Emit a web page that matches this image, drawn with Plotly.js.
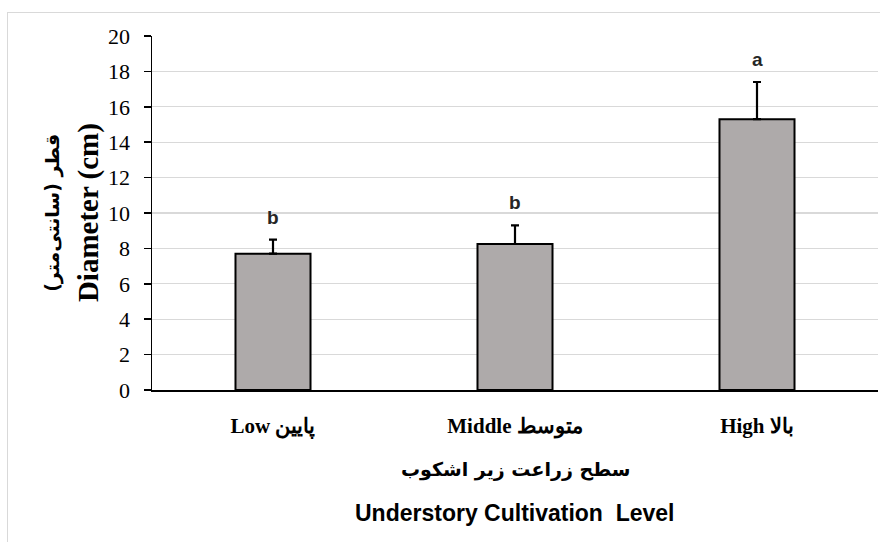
<!DOCTYPE html>
<html>
<head>
<meta charset="utf-8">
<script src="https://cdn.plot.ly/plotly-3.0.1.min.js"></script>
<style>
  html, body { margin: 0; padding: 0; background: #ffffff; }
  #frame { position: absolute; left: 7px; top: 12px; width: 1000px; height: 1000px;
           border-left: 1.5px solid #d9d9d9; border-top: 1.5px solid #d9d9d9; }
  #chart { position: absolute; left: 0; top: 0; width: 880px; height: 542px; }
</style>
</head>
<body>
<div id="frame"></div>
<div id="chart"></div>
<script>
// Understory cultivation levels and mean stem diameter (cm) with standard error
const levels = ['Low پایین', 'Middle متوسط', 'High بالا'];
const diameter = [7.7, 8.25, 15.3];
const stdError = [0.8, 1.05, 2.1];
const groupLetters = ['b', 'b', 'a'];
const yTicks = [0, 2, 4, 6, 8, 10, 12, 14, 16, 18, 20];

const SERIF = '"Liberation Serif", "Times New Roman", "DejaVu Serif", serif';
const SANS = '"Liberation Sans", Arial, "DejaVu Sans", sans-serif';
const ARABIC = '"DejaVu Sans", "Noto Sans", sans-serif';

const bars = {
  type: 'bar',
  x: levels,
  y: diameter,
  marker: { color: '#aeaaaa', line: { color: '#000000', width: 2 } },
  error_y: { type: 'data', array: stdError, symmetric: false, arrayminus: [0, 0, 0],
             color: '#000000', thickness: 2.2, width: 4 },
  hoverinfo: 'skip'
};

// significance letters sit just above each error bar
const letterNotes = levels.map((lv, i) => ({
  x: lv, y: diameter[i] + stdError[i], xref: 'x', yref: 'y',
  text: '<b>' + groupLetters[i] + '</b>', showarrow: false,
  yanchor: 'bottom', yshift: 10,
  font: { family: SANS, size: 19, color: '#262626' }
}));

const titleNotes = [
  { xref: 'paper', yref: 'paper', x: 0.5, y: -0.225, yanchor: 'middle', showarrow: false,
    text: '<b>سطح زراعت زیر اشکوب</b>',
    font: { family: ARABIC, size: 19, color: '#000000' } },
  { xref: 'paper', yref: 'paper', x: 0.5, y: -0.347, yanchor: 'middle', showarrow: false,
    text: '<b>Understory Cultivation  Level</b>',
    font: { family: SANS, size: 23, color: '#000000' } },
  { xref: 'paper', yref: 'paper', x: -0.088, y: 0.5, xanchor: 'center', yanchor: 'middle', showarrow: false,
    textangle: -90,
    text: '<b>Diameter (cm)</b>',
    font: { family: SERIF, size: 29, color: '#000000' } },
  { xref: 'paper', yref: 'paper', x: -0.138, y: 0.5, xanchor: 'center', yanchor: 'middle', showarrow: false,
    textangle: -90,
    text: '<b>قطر (سانتی‌متر)\u200F</b>',
    font: { family: ARABIC, size: 19, color: '#000000' } }
];

const layout = {
  width: 880, height: 542,
  margin: { l: 152, r: 2, t: 36, b: 152 },
  paper_bgcolor: 'rgba(0,0,0,0)',
  plot_bgcolor: 'rgba(0,0,0,0)',
  bargap: 0.69,
  showlegend: false,
  xaxis: {
    type: 'category',
    showline: true, linecolor: '#000000', linewidth: 1.5,
    ticks: '', showgrid: false, zeroline: false,
    ticklabelstandoff: 16,
    tickfont: { family: SERIF, size: 21, color: '#000000', weight: 'bold' }
  },
  yaxis: {
    range: [0, 20],
    tickvals: yTicks,
    showline: true, linecolor: '#000000', linewidth: 1.5,
    ticks: 'outside', ticklen: 7, tickwidth: 1.5, tickcolor: '#000000',
    showgrid: true, gridcolor: '#d9d9d9', gridwidth: 1.2,
    zeroline: false,
    ticklabelstandoff: 9,
    tickfont: { family: SERIF, size: 22, color: '#000000' }
  },
  annotations: letterNotes.concat(titleNotes)
};

Plotly.newPlot('chart', [bars], layout, { displayModeBar: false, staticPlot: true });
</script>
</body>
</html>
